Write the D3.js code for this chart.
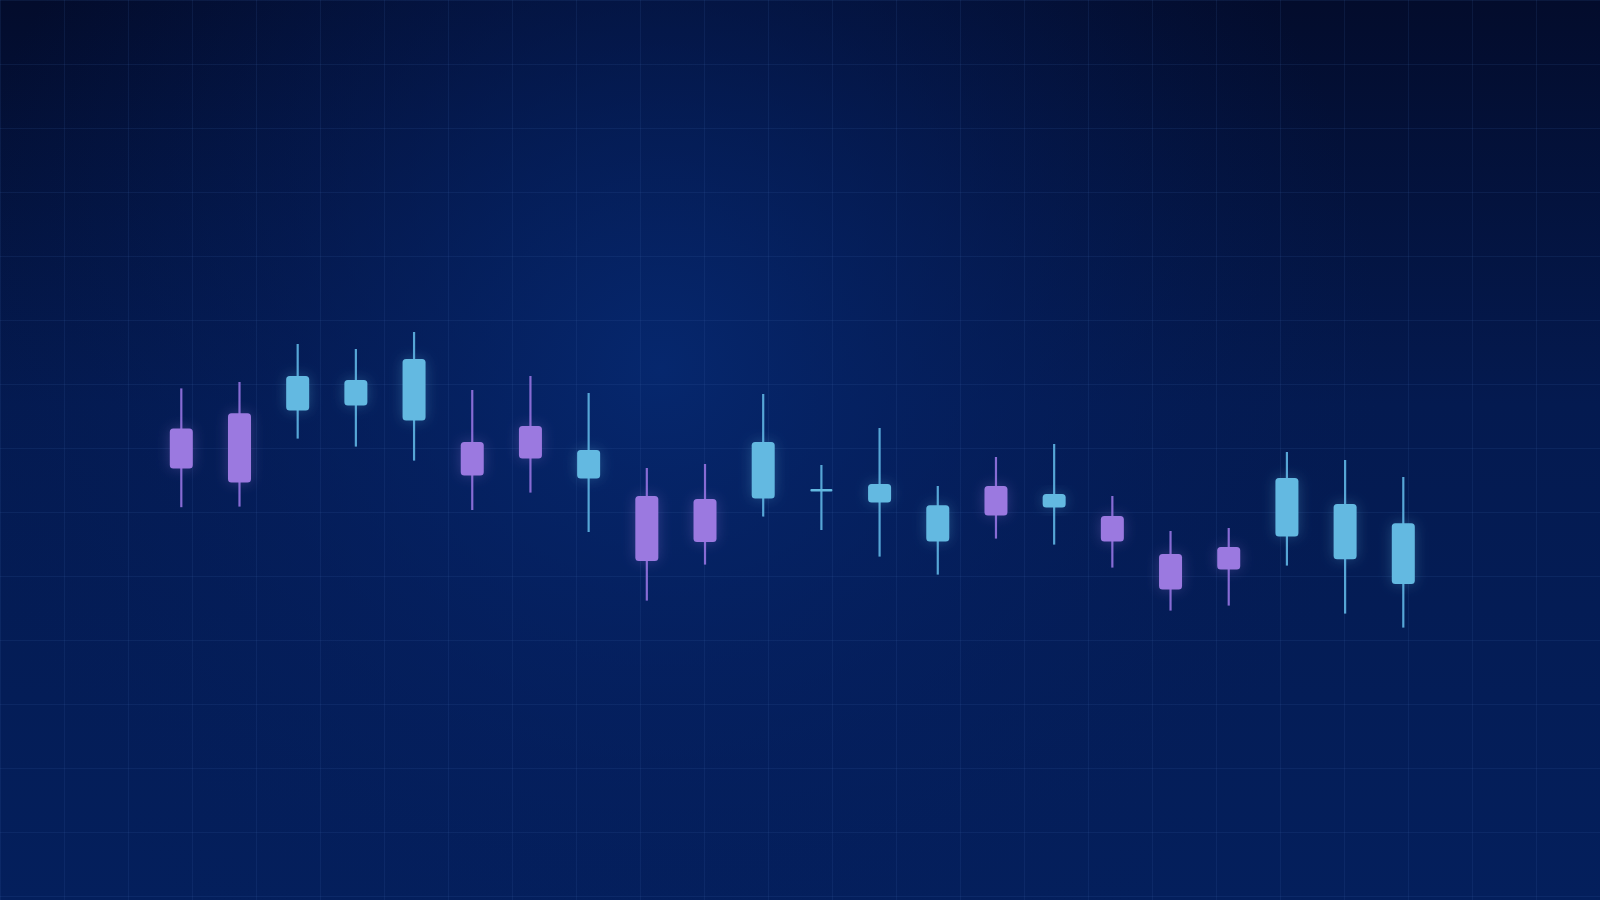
<!DOCTYPE html>
<html>
<head>
<meta charset="utf-8">
<script src="https://cdn.jsdelivr.net/npm/d3@7"></script>
<style>
  html, body { margin: 0; padding: 0; background: #041233; overflow: hidden; }
  svg { display: block; }
</style>
</head>
<body>
<div id="chart"></div>
<script>
// candle data
var days   = ["D1","D2","D3","D4","D5","D6","D7","D8","D9","D10","D11",
              "D12","D13","D14","D15","D16","D17","D18","D19","D20","D21","D22"];
var opens  = [105.8, 113.4, 114.7, 117.2, 109.7, 99.0, 107.0, 80.7, 72.0, 70.5, 70.7,
              74.9, 68.7, 49.2, 77.0, 66.2, 62.0, 43.0, 46.5, 51.7, 40.4, 28.0];
var highs  = [125.8, 129.0, 148.0, 145.5, 154.0, 125.0, 132.0, 123.5, 86.0, 88.0, 123.0,
              87.5, 106.0, 77.0, 91.5, 98.0, 72.0, 54.5, 56.0, 94.0, 90.0, 81.5];
var lows   = [66.4, 66.7, 100.7, 96.7, 89.7, 65.0, 73.7, 54.0, 19.7, 37.7, 61.7,
              55.0, 41.7, 32.7, 50.7, 47.7, 36.2, 14.7, 17.2, 37.2, 13.2, 6.2];
var closes = [85.8, 78.7, 132.0, 130.0, 140.5, 82.2, 90.7, 95.0, 39.5, 49.0, 99.0,
              74.9, 78.0, 67.4, 62.2, 73.0, 49.2, 25.2, 35.2, 81.0, 68.0, 58.4];

var width = 1600, height = 900;
var upColor = "#63b9e1", downColor = "#9b79e0";
var upWick = "#56a6d6", downWick = "#876bd4";

var data = days.map(function (d, i) {
    return { day: d, open: opens[i], high: highs[i], low: lows[i], close: closes[i] };
});

var svg = d3.select("#chart")
    .append("svg")
    .attr("width", width)
    .attr("height", height);

var defs = svg.append("defs");

// background: vertical gradient plus a soft radial glow
var bg = defs.append("linearGradient")
    .attr("id", "bg").attr("x1", 0).attr("y1", 0).attr("x2", 0).attr("y2", 1);
bg.append("stop").attr("offset", "0%").attr("stop-color", "#030c2c");
bg.append("stop").attr("offset", "45%").attr("stop-color", "#041a50");
bg.append("stop").attr("offset", "100%").attr("stop-color", "#041f5c");

var glowBg = defs.append("radialGradient")
    .attr("id", "glowBg")
    .attr("gradientUnits", "userSpaceOnUse")
    .attr("cx", 660).attr("cy", 370).attr("r", 720);
glowBg.append("stop").attr("offset", "0%").attr("stop-color", "#06286f").attr("stop-opacity", 0.95);
glowBg.append("stop").attr("offset", "55%").attr("stop-color", "#052163").attr("stop-opacity", 0.4);
glowBg.append("stop").attr("offset", "100%").attr("stop-color", "#041d58").attr("stop-opacity", 0);

var glow = defs.append("filter")
    .attr("id", "glow")
    .attr("x", "-150%").attr("y", "-60%").attr("width", "400%").attr("height", "220%");
glow.append("feGaussianBlur").attr("in", "SourceGraphic").attr("stdDeviation", 7).attr("result", "blur");
glow.append("feComponentTransfer").attr("in", "blur").attr("result", "soft")
    .append("feFuncA").attr("type", "linear").attr("slope", 0.3);
var merge = glow.append("feMerge");
merge.append("feMergeNode").attr("in", "soft");
merge.append("feMergeNode").attr("in", "SourceGraphic");

svg.append("rect").attr("width", width).attr("height", height).attr("fill", "url(#bg)");
svg.append("rect").attr("width", width).attr("height", height).attr("fill", "url(#glowBg)");

// grid: 64px cells across the whole canvas
var gx = d3.scaleLinear().domain([0, 25]).range([0, width]);
var gy = d3.scaleLinear().domain([0, 900 / 64]).range([0, height]);

svg.append("g")
    .attr("class", "grid")
    .call(d3.axisBottom(gx).ticks(25).tickSize(height).tickFormat(""))
    .call(g => g.select(".domain").remove())
    .selectAll("line")
    .attr("stroke", "#3d6ab0")
    .attr("stroke-opacity", 0.14);

svg.append("g")
    .attr("class", "grid")
    .call(d3.axisRight(gy).ticks(14).tickSize(width).tickFormat(""))
    .call(g => g.select(".domain").remove())
    .selectAll("line")
    .attr("stroke", "#3d6ab0")
    .attr("stroke-opacity", 0.14);

// scales for the candles
var x = d3.scalePoint()
    .domain(days)
    .range([181.3, 1403.3]);

var y = d3.scaleLinear()
    .domain([40, 140])
    .range([560, 360]);

var bodyW = 23;
var col = d => d.close >= d.open ? upColor : downColor;
var wickCol = d => d.close >= d.open ? upWick : downWick;

var candles = svg.selectAll(".candle")
    .data(data)
    .enter().append("g")
    .attr("class", "candle")
    .attr("transform", d => "translate(" + x(d.day) + ",0)");

candles.append("line")
    .attr("x1", 0).attr("x2", 0)
    .attr("y1", d => y(d.high))
    .attr("y2", d => y(d.low))
    .attr("stroke", wickCol)
    .attr("stroke-width", 2.2);

candles.append("rect")
    .attr("x", d => d.open === d.close ? -bodyW / 2 + 0.5 : -bodyW / 2)
    .attr("width", d => d.open === d.close ? bodyW - 1 : bodyW)
    .attr("y", d => d.open === d.close ? y(d.open) - 1.3 : y(Math.max(d.open, d.close)))
    .attr("height", d => d.open === d.close ? 2.6 : Math.abs(y(d.open) - y(d.close)))
    .attr("rx", d => d.open === d.close ? 1 : 3.5)
    .attr("fill", col)
    .attr("filter", d => d.open === d.close ? null : "url(#glow)");
</script>
</body>
</html>
